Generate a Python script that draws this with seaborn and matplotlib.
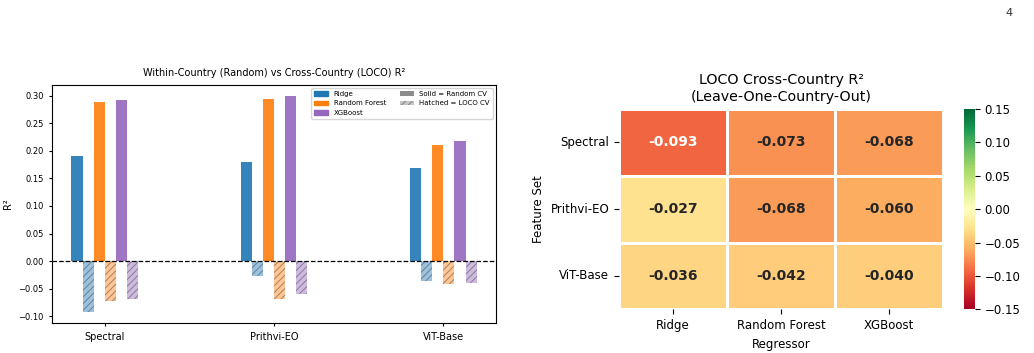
import numpy as np
import pandas as pd
import matplotlib
matplotlib.use('Agg')
import matplotlib.pyplot as plt
import matplotlib.patches as mpatches
import seaborn as sns

feature_sets = ['Spectral', 'Prithvi-EO', 'ViT-Base']
models = ['Ridge', 'Random Forest', 'XGBoost']
model_colors = ['#1f77b4', '#ff7f0e', '#9467bd']

# R² under random CV (rows: feature set, cols: model)
random_r2 = [[0.191, 0.289, 0.291],
             [0.180, 0.294, 0.300],
             [0.169, 0.211, 0.218]]
# R² under leave-one-country-out CV
loco_r2 = [[-0.093, -0.073, -0.068],
           [-0.027, -0.068, -0.060],
           [-0.036, -0.042, -0.040]]

rows = []
for i, fs in enumerate(feature_sets):
    for j, m in enumerate(models):
        rows.append({'feature': fs, 'group': m + ' | Random', 'r2': random_r2[i][j]})
        rows.append({'feature': fs, 'group': m + ' | LOCO', 'r2': loco_r2[i][j]})
df = pd.DataFrame(rows)
hue_order = [m + ' | ' + cv for m in models for cv in ['Random', 'LOCO']]
palette = {m + ' | ' + cv: c for m, c in zip(models, model_colors) for cv in ['Random', 'LOCO']}

plt.rcParams['hatch.linewidth'] = 0.7

fig = plt.figure(figsize=(10.34, 3.53), dpi=100)
ax1 = fig.add_axes([0.0503, 0.0841, 0.4294, 0.676])
ax2 = fig.add_axes([0.5986, 0.1238, 0.3136, 0.5674])
cax = fig.add_axes([0.9326, 0.1238, 0.0103, 0.5674])

sns.barplot(data=df, x='feature', y='r2', hue='group', order=feature_sets,
            hue_order=hue_order, palette=palette, width=0.39, saturation=1,
            errorbar=None, legend=False, ax=ax1)

# patches come out grouped by hue level
for k, patch in enumerate(ax1.patches):
    level = hue_order[k // len(feature_sets)]
    if level.endswith('LOCO'):
        patch.set_alpha(0.45)
        patch.set_hatch('/////')
        patch.set_edgecolor('#333333')
        patch.set_linewidth(0)
    else:
        patch.set_alpha(0.9)

ax1.axhline(0, color='black', linestyle='--', linewidth=0.9)
ax1.set_xlim(-0.31, 2.31)
ax1.set_xlabel('')
ax1.set_ylabel('R²', fontsize=7)
ax1.set_title('Within-Country (Random) vs Cross-Country (LOCO) R²', fontsize=7)
ax1.tick_params(axis='x', labelsize=7, length=2.5)
ax1.tick_params(axis='y', labelsize=6, length=2.5)

handles = [mpatches.Patch(color=c, label=m) for m, c in zip(models, model_colors)]
handles += [mpatches.Patch(facecolor='gray', alpha=0.9, label='Solid = Random CV'),
            mpatches.Patch(facecolor='gray', alpha=0.45, hatch='/////', edgecolor='#333333',
                           linewidth=0, label='Hatched = LOCO CV')]
ax1.legend(handles=handles, ncol=2, fontsize=5, loc='upper right')

loco_df = pd.DataFrame(loco_r2, index=feature_sets, columns=models)
sns.heatmap(loco_df, ax=ax2, cbar_ax=cax, cmap='RdYlGn', vmin=-0.15, vmax=0.15,
            annot=True, fmt='.3f', linewidths=1, linecolor='white',
            annot_kws={'fontsize': 10, 'fontweight': 'bold'})
ax2.set_title('LOCO Cross-Country R²\n(Leave-One-Country-Out)', fontsize=10.3)
ax2.set_xlabel('Regressor', fontsize=8.5)
ax2.set_ylabel('Feature Set', fontsize=8.5)
ax2.tick_params(labelsize=8.5)
ax2.set_yticklabels(feature_sets, rotation=0)
cax.tick_params(labelsize=8.5)
cax.set_yticks([-0.15, -0.10, -0.05, 0.00, 0.05, 0.10, 0.15])

fig.text(0.972, 0.955, '4', fontsize=8, color='#333333')

fig.savefig('out.png', dpi=100)
